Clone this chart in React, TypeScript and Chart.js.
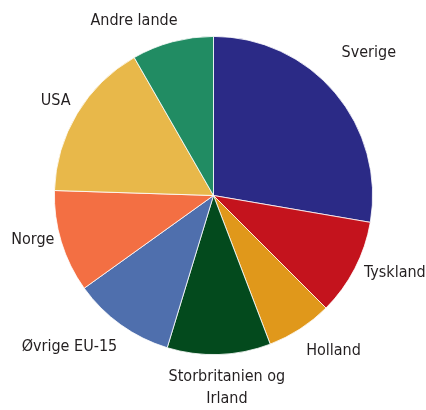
import React, { useEffect, useRef } from "react";
import { Chart, registerables } from "chart.js";

Chart.register(...registerables);

const categories: string[][] = [
  ["Sverige"],
  ["Tyskland"],
  ["Holland"],
  ["Storbritanien og", "Irland"],
  ["Øvrige EU-15"],
  ["Norge"],
  ["USA"],
  ["Andre lande"],
];
const shares: number[] = [27.7, 9.8, 6.7, 10.5, 10.4, 10.4, 16.2, 8.3];
const colors: string[] = [
  "#2b2a86",
  "#c4131d",
  "#e0981b",
  "#034a1d",
  "#4f6fad",
  "#f36f43",
  "#e8b84a",
  "#218c63",
];
// label placement: extra distance beyond outer radius (px) and angular nudge (deg)
const labelExtra: number[] = [52, 38, 37, 34, 50, 27, 25, 33];
const labelNudge: number[] = [-2.5, -4.3, -4.8, -2, 7.9, 3, 0, -9.5];

const labelPlugin = {
  id: "outerLabels",
  afterDatasetsDraw(chart: any) {
    const meta = chart.getDatasetMeta(0);
    const ctx = chart.ctx;
    ctx.save();
    ctx.font = '16px "DejaVu Sans Condensed", "Liberation Sans Narrow", sans-serif';
    ctx.fillStyle = "#231f20";
    ctx.textAlign = "center";
    ctx.textBaseline = "middle";
    const lineH = 22;
    meta.data.forEach((arc: any, i: number) => {
      const p = arc.getProps(["x", "y", "startAngle", "endAngle", "outerRadius"], true);
      const mid = (p.startAngle + p.endAngle) / 2 + (labelNudge[i] * Math.PI) / 180;
      const r = p.outerRadius + labelExtra[i];
      const cx = p.x + Math.cos(mid) * r;
      const cy = p.y + Math.sin(mid) * r;
      const lines = categories[i];
      const y0 = cy - ((lines.length - 1) * lineH) / 2;
      lines.forEach((t, k) => ctx.fillText(t, cx, y0 + k * lineH));
    });
    ctx.restore();
  },
};

export default function App() {
  const ref = useRef<HTMLCanvasElement | null>(null);
  useEffect(() => {
    if (!ref.current) return;
    const chart = new Chart(ref.current, {
      type: "pie",
      data: {
        labels: categories.map((c) => c.join(" ")),
        datasets: [
          {
            data: shares,
            backgroundColor: colors,
            borderColor: "#ffffff",
            borderWidth: 0.8,
            hoverOffset: 0,
          },
        ],
      },
      options: {
        animation: false,
        responsive: false,
        layout: { padding: { left: 54, right: 53, top: 36, bottom: 55 } },
        plugins: {
          legend: { display: false },
          tooltip: { enabled: false },
        },
      },
      plugins: [labelPlugin],
    });
    return () => chart.destroy();
  }, []);
  return (
    <div style={{ position: "fixed", left: 0, top: 0, width: 426, height: 410, background: "#fff" }}>
      <canvas ref={ref} width={426} height={410} style={{ width: 426, height: 410 }} />
    </div>
  );
}
